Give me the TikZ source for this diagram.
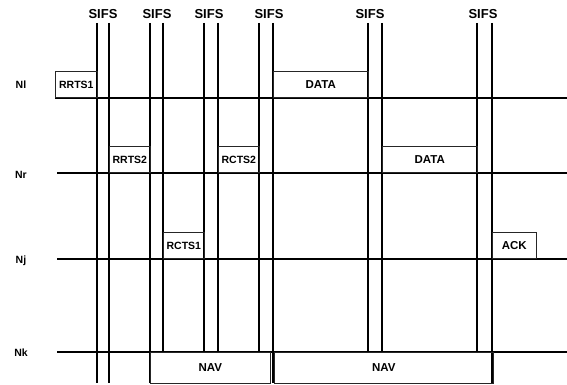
\documentclass[tikz,border=0pt]{standalone}
\usepackage{fontspec}
\setmainfont{Liberation Sans}
\usetikzlibrary{positioning}

\tikzset{
	timeline/.style={line width=1.1pt},
	sifsline/.style={line width=1.1pt},
	sifslabel/.style={font=\fontsize{13}{15}\selectfont\bfseries, inner sep=0pt},
	rowlabel/.style={font=\fontsize{10.5}{12}\selectfont\bfseries, inner sep=0pt},
	framebox/.style={draw=black!85, line width=0.6pt, inner sep=0pt, anchor=south west,
		minimum height=26pt, font=\fontsize{10.5}{12}\selectfont\bfseries},
	widebox/.style={framebox, font=\fontsize{11.5}{13}\selectfont\bfseries}
}

\begin{document}
\begin{tikzpicture}[x=1pt, y=-1pt]
\useasboundingbox (0,0) rectangle (567,385);

% row labels and time lines
\node[rowlabel] (nl) at (21,85) {Nl};
\node[rowlabel] (nr) at (21,175) {Nr};
\node[rowlabel] (nj) at (21,261) {Nj};
\node[rowlabel] (nk) at (21,353) {Nk};

\coordinate (nlA) at (55,98);  \coordinate (nlB) at (567,98);
\coordinate (nrA) at (57,173); \coordinate (nrB) at (567,173);
\coordinate (njA) at (57,259); \coordinate (njB) at (567,259);
\coordinate (nkA) at (57,352); \coordinate (nkB) at (567,352);

\draw[timeline] (nlA) -- (nlB);
\draw[timeline] (nrA) -- (nrB);
\draw[timeline] (njA) -- (njB);
\draw[timeline] (nkA) -- (nkB);

% SIFS gaps
\foreach \i/\x in {1/103, 2/157, 3/209, 4/269, 5/370, 6/483}
	\node[sifslabel] (sifs\i) at (\x,14) {SIFS};

\foreach \i/\x/\b in {1/97/383, 2/109/383, 3/150/383, 4/163/352, 5/204/352, 6/218/352,
	7/259/352, 8/273/383, 9/368/352, 10/382/352, 11/477/352, 12/492/383}{
	\coordinate (vt\i) at (\x,23);
	\coordinate (vb\i) at (\x,\b);
	\draw[sifsline] (vt\i) -- (vb\i);
}

% frames
\node[framebox, minimum width=42pt] (rrtsA) at (55,98) {RRTS1};
\node[widebox, minimum width=95pt] (dataA) at (273,98) {DATA};
\node[framebox, minimum width=41pt] (rrtsB) at (109,173) {RRTS2};
\node[framebox, minimum width=41pt] (rctsB) at (218,173) {RCTS2};
\node[widebox, minimum width=95pt] (dataB) at (382,173) {DATA};
\node[framebox, minimum width=41pt] (rctsA) at (163,259) {RCTS1};
\node[widebox, minimum width=44pt] (ack) at (492,259) {ACK};

% NAV periods
\node[widebox, minimum width=120pt, minimum height=31pt, anchor=north west] (navA) at (150,352) {NAV};
\node[widebox, minimum width=219pt, minimum height=31pt, anchor=north west] (navB) at (274,352) {NAV};

\end{tikzpicture}
\end{document}
